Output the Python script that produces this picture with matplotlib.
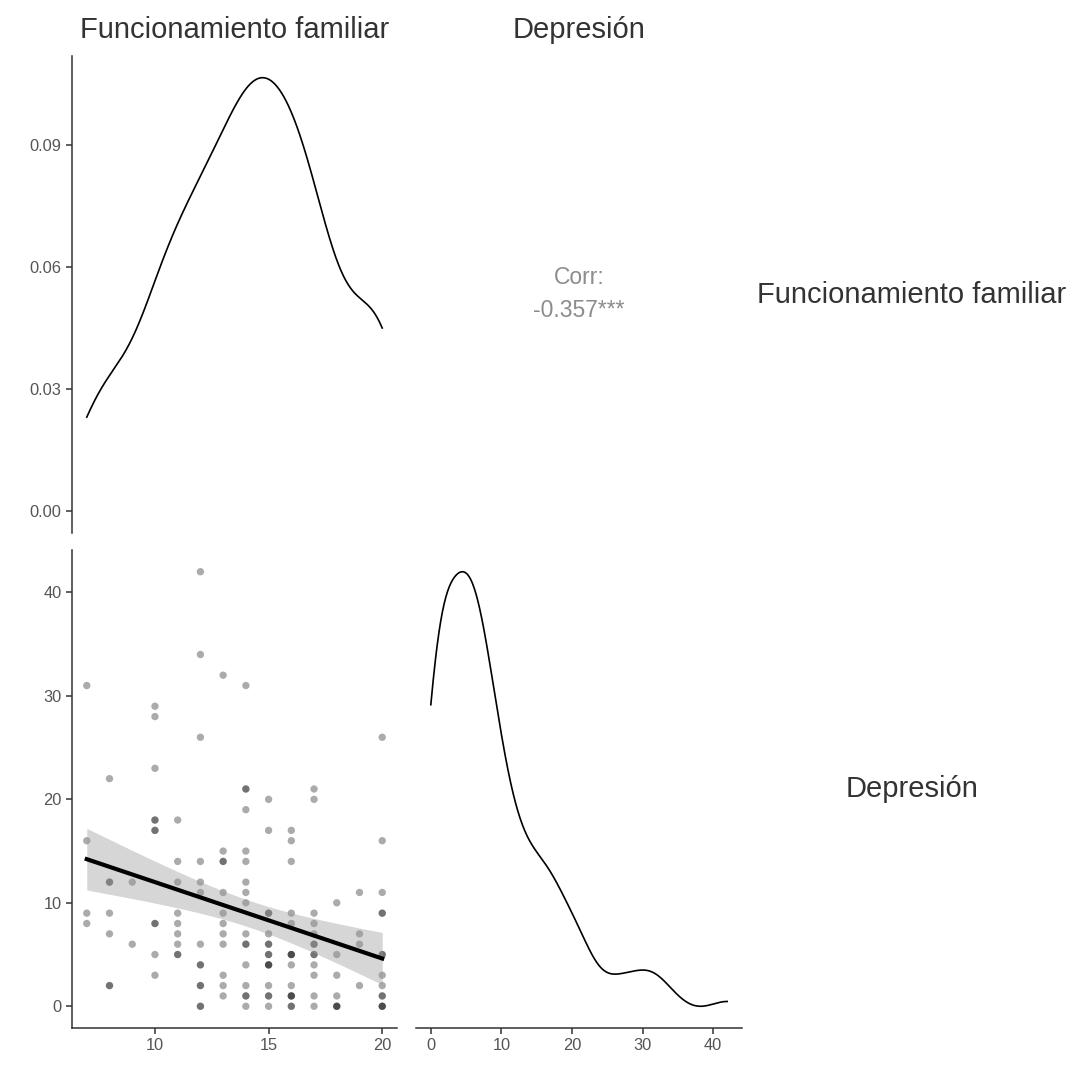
import numpy as np
import matplotlib
matplotlib.use("Agg")
import matplotlib.pyplot as plt

plt.rcParams['font.family'] = ['Liberation Sans', 'DejaVu Sans']

# ---- data ----
funcionamiento = [7]*4 + [8]*7 + [9]*2 + [10]*11 + [11]*9 + [12]*13 + [13]*12 + \
    [14]*17 + [15]*16 + [16]*15 + [17]*13 + [18]*7 + [19]*4 + [20]*14
depresion = [
    31, 16, 9, 8,
    22, 12, 12, 9, 7, 2, 2,
    12, 6,
    29, 28, 23, 18, 18, 17, 17, 8, 8, 5, 3,
    18, 14, 12, 9, 8, 7, 6, 5, 5,
    42, 34, 26, 14, 12, 11, 6, 4, 4, 2, 2, 0, 0,
    32, 15, 14, 14, 11, 9, 8, 7, 6, 3, 2, 1,
    31, 21, 21, 19, 15, 14, 12, 11, 10, 7, 6, 6, 4, 2, 1, 1, 0,
    20, 17, 9, 9, 7, 6, 6, 5, 5, 4, 4, 4, 2, 1, 1, 0,
    17, 16, 14, 9, 8, 5, 5, 5, 4, 2, 1, 1, 1, 0, 0,
    21, 20, 9, 8, 7, 6, 6, 5, 5, 4, 3, 1, 0,
    10, 5, 3, 1, 0, 0, 0,
    11, 7, 6, 2,
    26, 16, 11, 9, 9, 5, 5, 3, 2, 1, 1, 0, 0, 0,
]
var_names = ["Funcionamiento familiar", "Depresión"]
corr_label = "-0.357***"
ff_ticks = [10, 15, 20]
dep_ticks = [0, 10, 20, 30, 40]
dens_ticks = [0.00, 0.03, 0.06, 0.09]

x = np.array(funcionamiento, float)
y = np.array(depresion, float)


def kde_nrd0(v, n_grid=512):
    v = np.asarray(v, float)
    n = len(v)
    sd = v.std(ddof=1)
    iqr = np.subtract(*np.percentile(v, [75, 25]))
    bw = 0.9 * min(sd, iqr / 1.34) * n ** (-0.2)
    g = np.linspace(v.min(), v.max(), n_grid)
    d = np.exp(-0.5 * ((g[:, None] - v[None, :]) / bw) ** 2).sum(1) / (n * bw * np.sqrt(2 * np.pi))
    return g, d


W, H = 1074, 1070
fig = plt.figure(figsize=(W / 100, H / 100), dpi=100)

cols = [(72, 397), (416, 742)]
rows = [(56, 533), (550, 1028)]


def mk(c, r):
    x0, x1 = cols[c]
    y0, y1 = rows[r]
    return fig.add_axes([x0 / W, 1 - y1 / H, (x1 - x0) / W, (y1 - y0) / H])


spine_c = '#333333'
tick_c = '#555555'


def style(ax, left=False, bottom=False):
    for s in ['top', 'right', 'left', 'bottom']:
        ax.spines[s].set_visible(False)
    ax.spines['left'].set_visible(left)
    ax.spines['bottom'].set_visible(bottom)
    for s in ['left', 'bottom']:
        ax.spines[s].set_color(spine_c)
        ax.spines[s].set_linewidth(1.1)
    ax.tick_params(axis='both', colors=spine_c, labelcolor=tick_c, labelsize=11.8,
                   length=4, width=1.1)
    if not left:
        ax.tick_params(axis='y', left=False, labelleft=False)
    if not bottom:
        ax.tick_params(axis='x', bottom=False, labelbottom=False)
    ax.patch.set_alpha(0)


def expand(lo, hi):
    r = hi - lo
    return lo - 0.05 * r, hi + 0.05 * r


ff_lim = expand(x.min(), x.max())
dep_lim = expand(y.min(), y.max())

# top-left density
ax00 = mk(0, 0)
g, d = kde_nrd0(x)
ax00.plot(g, d, color='black', lw=1.2)
ax00.set_xlim(*ff_lim)
ax00.set_ylim(*expand(0, d.max()))
ax00.set_yticks(dens_ticks)
ax00.set_yticklabels([f"{t:.2f}" for t in dens_ticks])
style(ax00, left=True, bottom=False)

# top-right correlation
ax01 = mk(1, 0)
ax01.set_axis_off()
ax01.text(0.5, 0.5346, "Corr:", ha='center', va='center', color='#8c8c8c', fontsize=16.5,
          transform=ax01.transAxes)
ax01.text(0.5, 0.4675, corr_label, ha='center', va='center', color='#8c8c8c', fontsize=16.5,
          transform=ax01.transAxes)

# bottom-left scatter + lm
ax10 = mk(0, 1)
ax10.scatter(x, y, s=28, color='black', alpha=0.33, edgecolors='none', zorder=2)
n = len(x)
b1, b0 = np.polyfit(x, y, 1)
xs = np.linspace(x.min(), x.max(), 80)
yh = b0 + b1 * xs
resid = y - (b0 + b1 * x)
s_err = np.sqrt((resid ** 2).sum() / (n - 2))
se = s_err * np.sqrt(1 / n + (xs - x.mean()) ** 2 / ((x - x.mean()) ** 2).sum())
tval = 1.977
ax10.fill_between(xs, yh - tval * se, yh + tval * se, color='#999999', alpha=0.4,
                  lw=0, zorder=3)
ax10.plot(xs, yh, color='black', lw=3, zorder=4)
ax10.set_xlim(*ff_lim)
ax10.set_ylim(*dep_lim)
ax10.set_xticks(ff_ticks)
ax10.set_yticks(dep_ticks)
style(ax10, left=True, bottom=True)

# bottom-right density
ax11 = mk(1, 1)
g2, d2 = kde_nrd0(y)
ax11.plot(g2, d2, color='black', lw=1.2)
ax11.set_xlim(*dep_lim)
ax11.set_ylim(*expand(d2.min(), d2.max()))
ax11.set_xticks(dep_ticks)
style(ax11, left=False, bottom=True)

# strip labels
strip_c = '#333333'
for c, name in enumerate(var_names):
    x0, x1 = cols[c]
    fig.text((x0 + x1) / 2 / W, 1 - 30 / H, name, ha='center', va='center',
             fontsize=21, color=strip_c)
for r, name in enumerate(var_names):
    y0, y1 = rows[r]
    fig.text(912 / W, 1 - (y0 + y1) / 2 / H, name, ha='center', va='center',
             fontsize=21, color=strip_c)

fig.savefig("out.png", dpi=100, facecolor='white')
